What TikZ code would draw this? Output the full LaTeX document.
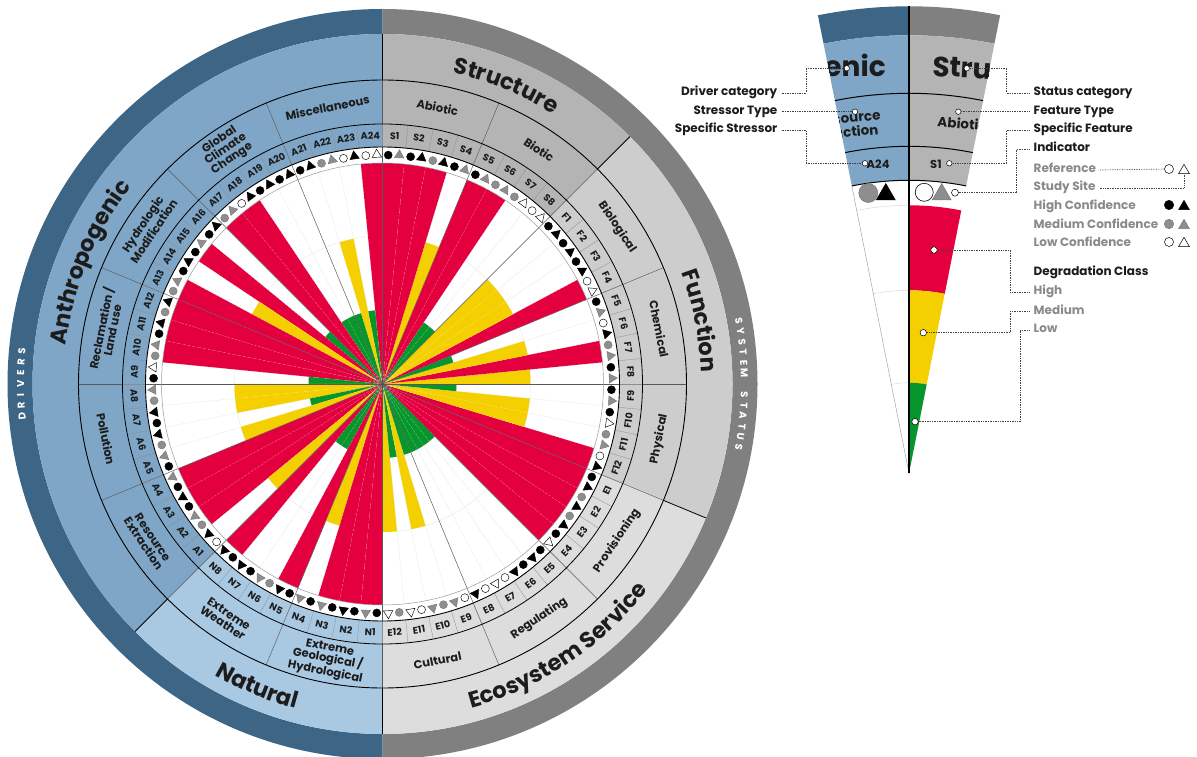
\documentclass[tikz,border=0pt]{standalone}
\usepackage{fontspec}
\setmainfont{Poppins}
\usetikzlibrary{shapes.geometric,decorations.text}
\definecolor{dblue}{HTML}{3D6586}
\definecolor{lblue}{HTML}{7FA6C6}
\definecolor{nblue}{HTML}{A9C8E2}
\definecolor{dgrey}{HTML}{808080}
\definecolor{sgrey}{HTML}{B4B4B4}
\definecolor{fgrey}{HTML}{CDCDCD}
\definecolor{egrey}{HTML}{DDDDDD}
\definecolor{cred}{HTML}{E4003F}
\definecolor{cyel}{HTML}{F5D000}
\definecolor{cgrn}{HTML}{07962B}
\definecolor{symg}{HTML}{8E8E8E}
\definecolor{txtc}{HTML}{1C1C1C}
\definecolor{txtg}{HTML}{8A8A8A}
\definecolor{gridc}{HTML}{EBEBEB}
\newcommand{\annsec}[5]{\fill[#1] (#2:#4) arc[start angle=#2, end angle=#3, radius=#4] -- (#3:#5) arc[start angle=#3, end angle=#2, radius=#5] -- cycle;}
\newcommand{\wedgefill}[4]{\fill[#1] (0,0) -- (#2:#4) arc[start angle=#2, end angle=#3, radius=#4] -- cycle;}
\newcommand{\fspec}{\bfseries\fontsize{9.6}{10}\selectfont}
\newcommand{\ftype}{\bfseries\fontsize{11.5}{11.2}\selectfont}
\newcommand{\fcat}{\bfseries\fontsize{22.5}{22.5}\selectfont}
\newcommand{\fleg}{\bfseries\fontsize{12}{13}\selectfont}
\newcommand{\flegbig}{\bfseries\fontsize{28}{28}\selectfont}
\newcommand{\flegmid}{\bfseries\fontsize{13.5}{13.5}\selectfont}
\newcommand{\flegsp}{\bfseries\fontsize{11.5}{11.5}\selectfont}
\newcommand{\fdrv}{\bfseries\fontsize{10}{10}\selectfont}
\def\seclist{0/E12/cyel/148/sg/sw,1/E11/cgrn/74/sw/sw,2/E10/cyel/148/sg/sg,3/E9/cgrn/74/sw/sg,4/E8/cgrn/74/sw/sb,5/E7/cgrn/74/sw/sw,6/E6/cgrn/74/sb/sb,7/E5/cgrn/74/sb/sb,8/E4/cred/221/sb/sw,9/E3/cred/221/sg/sb,10/E2/cred/221/sg/sb,11/E1/cred/221/sb/sb,12/F12/cred/221/sw/sb,13/F11/cyel/148/sg/sg,14/F10/cyel/148/sb/sw,15/F9/cgrn/74/sb/sg,16/F8/cyel/148/sb/sg,17/F7/cred/221/sg/sg,18/F6/cyel/148/sw/sb,19/F5/cgrn/74/sb/sg,20/F4/cred/221/sw/sw,21/F3/cyel/148/sb/sb,22/F2/cyel/148/sb/sb,23/F1/cyel/148/sb/sb,24/S8/cgrn/74/sw/sw,25/S7/cgrn/74/sg/sw,26/S6/cred/221/sg/sg,27/S5/cred/221/sb/sg,28/S4/cyel/148/sb/sg,29/S3/cred/221/sg/sb,30/S2/cred/221/sb/sb,31/S1/cred/221/sb/sg,32/A24/cred/221/sw/sw,33/A23/cgrn/74/sw/sb,34/A22/cyel/148/sg/sg,35/A21/cgrn/74/sb/sb,36/A20/cgrn/74/sb/sb,37/A19/cgrn/74/sb/sb,38/A18/cred/221/sw/sb,39/A17/cred/221/sg/sg,40/A16/cgrn/74/sb/sb,41/A15/cred/221/sb/sg,42/A14/cyel/148/sb/sb,43/A13/cred/221/sg/sg,44/A12/cred/221/sg/sb,45/A11/cred/221/sb/sb,46/A10/cred/221/sg/sg,47/A9/cgrn/74/sb/sw,48/A8/cyel/148/sg/sg,49/A7/cyel/148/sb/sb,50/A6/cgrn/74/sg/sb,51/A5/cyel/148/sb/sg,52/A4/cred/221/sb/sg,53/A3/cred/221/sb/sb,54/A2/cred/221/sg/sg,55/A1/cyel/148/sw/sb,56/N8/cred/221/sb/sb,57/N7/cgrn/74/sb/sb,58/N6/cgrn/74/sg/sg,59/N5/cred/221/sb/sb,60/N4/cyel/148/sb/sg,61/N3/cred/221/sb/sg,62/N2/cred/221/sb/sb,63/N1/cred/221/sb/sg}
\tikzset{
 sb/.style={fill=black,draw=black},
 sg/.style={fill=symg,draw=symg!85!black},
 sw/.style={fill=white,draw=black},
 circsym/.style={circle,inner sep=0pt,minimum size=8pt,line width=0.45pt},
 trisym/.style={regular polygon,regular polygon sides=3,inner sep=0pt,minimum size=10.8pt,line width=0.45pt},
 lead/.style={densely dotted,line width=0.7pt,draw=black!75},
 ldot/.style={circle,fill=white,draw=black,line width=0.5pt,inner sep=0pt,minimum size=5.5pt},
 labl/.style={font=\fleg,text=txtc,inner sep=0pt},
 labg/.style={font=\fleg,text=txtg,inner sep=0pt},
 typel/.style={font=\ftype,text=txtc,align=center,inner sep=0pt},
 specl/.style={font=\fspec,text=txtc,inner sep=0pt},
 legt/.style={text=txtc,inner sep=0pt},
}
\begin{document}
\begin{tikzpicture}[x=1pt,y=1pt]
\useasboundingbox (0,0) rectangle (1197,756);
\clip (0,0) rectangle (1197,756);
\fill[white] (0,0) rectangle (1197,756);
% ================= main chart =================
\begin{scope}[shift={(382.5,372)}]
\annsec{dblue}{90}{270}{350}{375}
\annsec{dgrey}{-90}{90}{350}{375}
\annsec{lblue}{90}{225}{237}{350}
\annsec{nblue}{225}{270}{237}{350}
\annsec{sgrey}{45}{90}{237}{350}
\annsec{fgrey}{-22.5}{45}{237}{350}
\annsec{egrey}{-90}{-22.5}{237}{350}
\fill[white] (0,0) circle[radius=237];
\foreach \i in {0,...,63} \draw[gridc,line width=0.4pt] (0,0) -- ({-90+5.625*\i}:221);
\draw[gridc,line width=0.5pt] (0,0) circle[radius=74] (0,0) circle[radius=148];
\foreach \p/\lab/\bc/\br/\cc/\tc in \seclist {
  \pgfmathsetmacro\ta{-90+5.625*\p}
  \pgfmathsetmacro\tb{\ta+5.625}
  \wedgefill{\bc}{\ta}{\tb}{\br}
}
\foreach \i in {0,...,63} \draw[white,opacity=0.35,line width=0.35pt,dash pattern=on 2pt off 2pt] (0,0) -- ({-90+5.625*\i}:221);
\foreach \i in {0,...,15} \draw[black!65,line width=0.45pt] (0,0) -- ({22.5*\i}:304);
\foreach \i in {0,...,63} \draw[black!45,line width=0.3pt] ({-90+5.625*\i}:237) -- ({-90+5.625*\i}:260);
\draw[black!40,line width=0.5pt] (0,0) circle[radius=221];
\draw[black,line width=0.9pt] (0,0) circle[radius=237];
\draw[black,line width=0.8pt] (0,0) circle[radius=260];
\draw[black,line width=0.9pt] (0,0) circle[radius=304];
\foreach \a in {45,-22.5,225,90,270} \draw[black,line width=0.8pt] (\a:304) -- (\a:350);
% specific labels and indicator symbols
\foreach \p/\lab/\bc/\br/\cc/\tc in \seclist {
  \pgfmathsetmacro\tm{-90+5.625*(\p+0.5)}
  \pgfmathsetmacro\rot{and(\p>15,\p<48) ? \tm-90 : \tm+90}
  \node[specl,rotate=\rot] at (\tm:248.5) {\lab};
  \node[circsym,\cc] at ({\tm+1.38}:229) {};
  \node[trisym,\tc,rotate=\tm-90] at ({\tm-1.38}:229.5) {};
}
% type labels
\node[typel,rotate=11.25] at (101.25:282) {Miscellaneous};
\node[typel,rotate=33.75] at (123.75:282) {Global\\Climate\\Change};
\node[typel,rotate=56.25] at (146.25:282) {Hydrologic\\Modification};
\node[typel,rotate=78.75] at (168.75:282) {Reclamation /\\Land use};
\node[typel,rotate=-11.25] at (78.75:282) {Abiotic};
\node[typel,rotate=-33.75] at (56.25:282) {Biotic};
\node[typel,rotate=-56.25] at (33.75:282) {Biological};
\node[typel,rotate=-78.75] at (11.25:282) {Chemical};
\node[typel,rotate=281.25] at (191.25:282) {Pollution};
\node[typel,rotate=303.75] at (213.75:282) {Resource\\Extraction};
\node[typel,rotate=326.25] at (236.25:282) {Extreme\\Weather};
\node[typel,rotate=348.75] at (258.75:282) {Extreme\\Geological /\\Hydrological};
\node[typel,rotate=11.25] at (-78.75:282) {Cultural};
\node[typel,rotate=33.75] at (-56.25:282) {Regulating};
\node[typel,rotate=56.25] at (-33.75:282) {Provisioning};
\node[typel,rotate=78.75] at (-11.25:282) {Physical};
% category labels
\path[decorate,decoration={text along path,text={|\fcat|Anthropogenic},text align=center,text color=txtc}] (200:319) arc[start angle=200,end angle=115,radius=319];
\path[decorate,decoration={text along path,text={|\fcat|Structure},text align=center,text color=txtc}] (95:319) arc[start angle=95,end angle=40,radius=319];
\path[decorate,decoration={text along path,text={|\fcat|Function},text align=center,text color=txtc}] (40:319) arc[start angle=40,end angle=-17.5,radius=319];
\path[decorate,decoration={text along path,text={|\fcat|Natural},text align=center,text color=txtc}] (210:336) arc[start angle=210,end angle=285,radius=336];
\path[decorate,decoration={text along path,text={|\fcat|Ecosystem Service},text align=center,text color=txtc}] (-100:336) arc[start angle=-100,end angle=-12.5,radius=336];
% ring texts
\foreach \ch [count=\i] in {D,R,I,V,E,R,S} {
  \pgfmathsetmacro\ang{180+(4-\i)*1.72}
  \node[font=\fdrv,text=white,rotate=\ang-90,inner sep=0pt] at (\ang:362) {\ch};
}
\foreach \ch [count=\i] in {S,Y,S,T,E,M,{},S,T,A,T,U,S} {
  \pgfmathsetmacro\ang{(7-\i)*1.68}
  \node[font=\fdrv,text=white,rotate=\ang-90,inner sep=0pt] at (\ang:362) {\ch};
}
\fill[black!70] (0,0) circle[radius=1.6];
\end{scope}
% ================= legend wedge =================
\begin{scope}[shift={(909,282.7)}]
\annsec{dblue}{90}{101.25}{438}{467}
\annsec{lblue}{90}{101.25}{293}{438}
\annsec{dgrey}{78.75}{90}{438}{467}
\annsec{sgrey}{78.75}{90}{293}{438}
\annsec{cred}{78.75}{90}{183}{268}
\annsec{cyel}{78.75}{90}{90.6}{183}
\wedgefill{cgrn}{78.75}{90}{90.6}
\draw[black!12,line width=0.6pt] (90:268) arc[start angle=90,end angle=101.25,radius=268];
\draw[black!12,line width=0.6pt] (90:183) arc[start angle=90,end angle=101.25,radius=183];
\draw[black!12,line width=0.6pt] (90:90.6) arc[start angle=90,end angle=101.25,radius=90.6];
\draw[black!35,line width=0.5pt] (0,0) -- (101.25:293);
\begin{scope}
\clip (0,0) -- (101.25:467) arc[start angle=101.25,end angle=78.75,radius=467] -- cycle;
\node[legt,anchor=base east,font=\flegbig] at (-23,396.8) {Anthropogenic};
\node[legt,anchor=base west,font=\flegbig,rotate=-3] at (23,397.3) {Structure};
\node[legt,anchor=base east,font=\flegmid,rotate=5] at (-28,353.3) {Resource};
\node[legt,anchor=base east,font=\flegmid,rotate=5] at (-30,339) {Extraction};
\node[legt,anchor=base west,font=\flegmid,rotate=-5] at (28,346.6) {Abiotic};
\node[legt,anchor=base west,font=\flegsp] at (-42.5,305) {A24};
\node[legt,anchor=base west,font=\flegsp] at (21,305) {S1};
\end{scope}
\draw[black,line width=1pt] (78.75:380) arc[start angle=78.75,end angle=101.25,radius=380];
\draw[black,line width=1pt] (78.75:327) arc[start angle=78.75,end angle=101.25,radius=327];
\draw[black,line width=1pt] (78.75:293) arc[start angle=78.75,end angle=101.25,radius=293];
\draw[black,line width=1.1pt] (0,0) -- (90:467);
\node[circle,inner sep=0pt,minimum size=19pt,line width=0.5pt,sg] (lgc) at (-40.7,280.3) {};
\node[regular polygon,regular polygon sides=3,inner sep=0pt,minimum size=22pt,line width=0.5pt,sb] (lbt) at (-23.2,278.8) {};
\node[circle,inner sep=0pt,minimum size=18pt,line width=0.6pt,sw] (lwc) at (15.2,281) {};
\node[regular polygon,regular polygon sides=3,inner sep=0pt,minimum size=22pt,line width=0.5pt,sg] (lgt) at (32.7,278.8) {};
\node[ldot] (dDC) at (-62.3,405) {};
\node[ldot] (dST) at (-54,361.6) {};
\node[ldot] (dSS) at (-44,310) {};
\node[ldot] (dSC) at (57.7,405) {};
\node[ldot] (dFT) at (49.3,361.6) {};
\node[ldot] (dSF) at (40.3,310) {};
\node[ldot,minimum size=7pt] (dIN) at (46,280.6) {};
\node[ldot,minimum size=6.5pt] (dH) at (25,223.3) {};
\node[ldot,minimum size=6.5pt] (dM) at (14.3,140.6) {};
\node[ldot,minimum size=6.5pt] (dL) at (6,51.6) {};
\end{scope}
% ================= legend labels =================
\node[labl,anchor=mid east] (lDC) at (777.5,663) {Driver category};
\node[labl,anchor=mid east] (lST) at (777.5,644.3) {Stressor Type};
\node[labl,anchor=mid east] (lSS) at (777.5,626) {Specific Stressor};
\node[labl,anchor=mid west] (lSC) at (1033.5,663) {Status category};
\node[labl,anchor=mid west] (lFT) at (1033.5,644.3) {Feature Type};
\node[labl,anchor=mid west] (lSF) at (1033.5,626) {Specific Feature};
\node[labl,anchor=mid west] (lIN) at (1033.5,607) {Indicator};
\node[labg,anchor=mid west] (lRF) at (1033.5,586) {Reference};
\node[labg,anchor=mid west] (lSD) at (1033.5,568) {Study Site};
\node[labg,anchor=mid west] (lHC) at (1033.5,549) {High Confidence};
\node[labg,anchor=mid west] (lMC) at (1033.5,530) {Medium Confidence};
\node[labg,anchor=mid west] (lLC) at (1033.5,512) {Low Confidence};
\node[labl,anchor=mid west] (lDG) at (1033.5,483) {Degradation Class};
\node[labg,anchor=mid west] (lHI) at (1033.5,464) {High};
\node[labg,anchor=mid west] (lME) at (1033.5,444.3) {Medium};
\node[labg,anchor=mid west] (lLO) at (1033.5,426) {Low};
\node[circle,inner sep=0pt,minimum size=9pt,line width=0.5pt,sw] (symRc) at (1169,587) {};
\node[regular polygon,regular polygon sides=3,inner sep=0pt,minimum size=12.5pt,line width=0.5pt,sw] (symRt) at (1184,585.5) {};
\node[circle,inner sep=0pt,minimum size=9.5pt,sb] (symHc) at (1169,551) {};
\node[regular polygon,regular polygon sides=3,inner sep=0pt,minimum size=12.5pt,sb] (symHt) at (1184,549.5) {};
\node[circle,inner sep=0pt,minimum size=9.5pt,line width=0.5pt,sg] (symMc) at (1169,532) {};
\node[regular polygon,regular polygon sides=3,inner sep=0pt,minimum size=12.5pt,line width=0.5pt,sg] (symMt) at (1184,530.5) {};
\node[circle,inner sep=0pt,minimum size=9pt,line width=0.5pt,sw] (symLc) at (1169,514) {};
\node[regular polygon,regular polygon sides=3,inner sep=0pt,minimum size=12.5pt,line width=0.5pt,sw] (symLt) at (1184,512.5) {};
% leaders
\draw[lead] ([xshift=4pt]lDC.mid east) -- ++(24.5,0) |- (dDC);
\draw[lead] ([xshift=4pt]lST.mid east) -- (dST);
\draw[lead] ([xshift=4pt]lSS.mid east) -- ++(24.5,0) |- (dSS);
\draw[lead] ([xshift=-4pt]lSC.mid west) -- ++(-22.8,0) |- (dSC);
\draw[lead] ([xshift=-4pt]lFT.mid west) -- (dFT);
\draw[lead] ([xshift=-4pt]lSF.mid west) -- ++(-22.8,0) |- (dSF);
\draw[lead] ([xshift=-4pt]lIN.mid west) -- ++(-12.8,0) |- (dIN);
\draw[lead] ([xshift=4pt]lRF.mid east) -- (symRc);
\draw[lead] ([xshift=4pt]lSD.mid east) -| (symRt);
\draw[lead] ([xshift=-4pt]lHI.mid west) -- ++(-19.5,0) |- (dH);
\draw[lead] ([xshift=-4pt]lME.mid west) -- ++(-19.5,0) |- (dM);
\draw[lead] ([xshift=-4pt]lLO.mid west) -- ++(-9.5,0) |- (dL);
\end{tikzpicture}
\end{document}
